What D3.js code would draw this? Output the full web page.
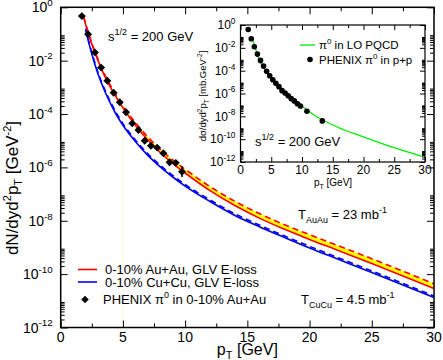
<!DOCTYPE html>
<html>
<head>
<meta charset="utf-8">
<script src="https://cdn.jsdelivr.net/npm/d3@7"></script>
<style>
  body { margin: 0; background: #fff; }
  svg { display: block; font-family: "Liberation Sans", Arial, sans-serif; }
</style>
</head>
<body>
<svg id="chart" width="443" height="360"></svg>
<script>
// values are log10 of the spectra
const redPt = [1.85, 2, 2.5, 3, 3.5, 4, 4.5, 5, 6, 7, 8, 9, 10, 12, 14, 16, 18, 20, 22, 25, 28, 30];
const redUpper = [-0.35, -0.6, -1.33, -1.95, -2.48, -2.93, -3.32, -3.68, -4.32, -4.86, -5.32, -5.72, -6.07, -6.72, -7.27, -7.74, -8.15, -8.52, -8.88, -9.42, -9.98, -10.36];
const redLower = [-0.38, -0.64, -1.38, -2.0, -2.54, -3.0, -3.4, -3.77, -4.42, -4.97, -5.44, -5.85, -6.21, -6.87, -7.43, -7.91, -8.32, -8.7, -9.06, -9.6, -10.16, -10.54];

const bluePt = [2, 2.5, 3, 3.5, 4, 4.5, 5, 6, 7, 8, 9, 10, 12, 14, 16, 18, 20, 22, 25, 28, 30];
const blueUpper = [-0.8, -1.69, -2.44, -3.04, -3.54, -3.99, -4.36, -4.97, -5.49, -5.92, -6.3, -6.64, -7.22, -7.74, -8.17, -8.57, -8.96, -9.33, -9.88, -10.44, -10.82];
const blueLower = [-0.85, -1.75, -2.5, -3.1, -3.6, -4.05, -4.42, -5.03, -5.55, -5.98, -6.36, -6.7, -7.28, -7.8, -8.23, -8.63, -9.02, -9.39, -9.94, -10.5, -10.88];

const auauPt = [1.7, 2.2, 2.75, 3.25, 3.75, 4.25, 4.75, 5.25, 5.75, 6.25, 6.75, 7.25, 7.75, 8.25, 8.75, 9.25, 9.75];
const auauLog = [-0.33, -1.01, -1.69, -2.26, -2.75, -3.2, -3.56, -3.93, -4.35, -4.6, -5.0, -5.19, -5.26, -5.47, -5.81, -5.83, -6.16];
const auauErr = [0, 0, 0, 0, 0, 0, 0, 0, 0, 0, 0, 0, 0, 0, 0.12, 0.1, 0.2];

// inset
const ppPt = [1.25, 1.75, 2.25, 2.75, 3.25, 3.75, 4.25, 4.75, 5.25, 5.75, 6.25, 6.75, 7.25, 7.75, 8.25, 8.75, 9.25, 9.75, 10.8, 13.3];
const ppLog = [-0.4, -1.2, -1.9, -2.55, -3.1, -3.6, -4.05, -4.45, -4.8, -5.1, -5.4, -5.75, -5.95, -6.2, -6.45, -6.65, -6.9, -7.1, -7.55, -8.4];
const pqcdPt = [2, 3, 4, 5, 6, 8, 10, 12, 14, 16, 20, 25, 29.5];
const pqcdLog = [-1.3, -2.95, -3.9, -4.6, -5.2, -6.25, -7.1, -7.9, -8.5, -9.0, -9.8, -10.75, -11.5];

const xTicks = [0, 5, 10, 15, 20, 25, 30];
const yTickExp = [0, -2, -4, -6, -8, -10, -12];

const svg = d3.select("#chart");

function logAxes(g, x, y, o) {
    let [x0, x1] = x.range();
    let [y0, y1] = y.range();
    let minor = [];
    yTickExp.forEach(e => { for (let k = 2; k <= 9; k++) if (e < 0) minor.push(k * Math.pow(10, e)); });
    let xMinor = d3.range(2.5, 30, 5);
    let major = yTickExp.map(e => Math.pow(10, e));

    g.append("g").attr("transform", `translate(0,${y0})`)
        .call(d3.axisBottom(x).tickValues(xTicks).tickSize(-o.maj).tickFormat(""));
    g.append("g").attr("transform", `translate(0,${y0})`)
        .call(d3.axisBottom(x).tickValues(xMinor).tickSize(-o.min).tickFormat(""));
    g.append("g").attr("transform", `translate(0,${y1})`)
        .call(d3.axisTop(x).tickValues(xTicks).tickSize(-o.maj).tickFormat(""));
    g.append("g").attr("transform", `translate(0,${y1})`)
        .call(d3.axisTop(x).tickValues(xMinor).tickSize(-o.min).tickFormat(""));
    [[d3.axisLeft, x0], [d3.axisRight, x1]].forEach(([ax, px]) => {
        g.append("g").attr("transform", `translate(${px},0)`)
            .call(ax(y).tickValues(major).tickSize(-o.maj).tickFormat(""));
        g.append("g").attr("transform", `translate(${px},0)`)
            .call(ax(y).tickValues(minor).tickSize(-o.min).tickFormat(""));
    });
    g.selectAll(".domain").remove();
    g.selectAll(".tick line").attr("stroke", "#000").attr("stroke-width", 1);

    g.append("rect")
        .attr("x", x0).attr("y", y1)
        .attr("width", x1 - x0).attr("height", y0 - y1)
        .attr("fill", "none").attr("stroke", "#000").attr("stroke-width", o.frame);

    g.selectAll(".xlab").data(xTicks).enter().append("text")
        .attr("x", d => x(d)).attr("y", y0 + o.xoff)
        .attr("text-anchor", "middle").style("font-size", o.fs + "px")
        .text(d => d);

    let yl = g.selectAll(".ylab").data(yTickExp).enter().append("text")
        .attr("x", x0 - o.yoff).attr("y", d => y(Math.pow(10, d)) + o.fs * 0.36)
        .attr("text-anchor", "end").style("font-size", o.fs + "px");
    yl.append("tspan").text("10");
    yl.append("tspan").attr("dy", -o.fs * 0.45).style("font-size", (o.fs * 0.7) + "px").text(d => d);
}

// ---------- main panel ----------
let x = d3.scaleLinear().domain([0, 30]).range([60.7, 434]);
let y = d3.scaleLog().domain([1e-12, 1]).range([327.5, 7.3]);

let main = svg.append("g");

main.append("line")
    .attr("x1", x(5)).attr("x2", x(5))
    .attr("y1", y(Math.pow(10, -4.6))).attr("y2", y(1e-12))
    .attr("stroke", "#fbf6d8").attr("stroke-width", 1);

function bands(pt, up, lo, color) {
    let rows = pt.map((p, i) => ({ p: p, u: Math.pow(10, up[i]), l: Math.pow(10, lo[i]) }));
    main.append("path").datum(rows)
        .attr("fill", "#ffff00")
        .attr("d", d3.area().curve(d3.curveMonotoneX).x(d => x(d.p)).y0(d => y(d.l)).y1(d => y(d.u)));
    main.append("path").datum(rows)
        .attr("fill", "none").attr("stroke", color).attr("stroke-width", 1.6)
        .attr("d", d3.line().curve(d3.curveMonotoneX).x(d => x(d.p)).y(d => y(d.l)));
    main.append("path").datum(rows)
        .attr("fill", "none").attr("stroke", color).attr("stroke-width", 1.6)
        .attr("stroke-dasharray", "6,4")
        .attr("d", d3.line().curve(d3.curveMonotoneX).x(d => x(d.p)).y(d => y(d.u)));
}
bands(bluePt, blueUpper, blueLower, "#0000ff");
bands(redPt, redUpper, redLower, "#ff0000");

let pts = auauPt.map((p, i) => ({ p: p, v: auauLog[i], e: auauErr[i] }));
main.selectAll(".err").data(pts.filter(d => d.e > 0)).enter().append("line")
    .attr("x1", d => x(d.p)).attr("x2", d => x(d.p))
    .attr("y1", d => y(Math.pow(10, d.v + d.e))).attr("y2", d => y(Math.pow(10, d.v - d.e)))
    .attr("stroke", "#000").attr("stroke-width", 1.5);
main.selectAll(".pt").data(pts).enter().append("path")
    .attr("transform", d => `translate(${x(d.p)},${y(Math.pow(10, d.v))})`)
    .attr("d", d3.symbol(d3.symbolDiamond2, 40))
    .attr("fill", "#000");

logAxes(main, x, y, { maj: 7, min: 4, frame: 1.5, fs: 14, xoff: 14, yoff: 8 });

main.append("text").attr("x", x(15)).attr("y", 355)
    .attr("text-anchor", "middle").style("font-size", "16px")
    .call(t => {
        t.append("tspan").text("p");
        t.append("tspan").attr("dy", 4).style("font-size", "11px").text("T");
        t.append("tspan").attr("dy", -4).text(" [GeV]");
    });

main.append("text").attr("transform", "translate(18,188) rotate(-90)")
    .attr("text-anchor", "middle").style("font-size", "17px")
    .call(t => {
        t.append("tspan").text("dN/dyd");
        t.append("tspan").attr("dy", -7).style("font-size", "11px").text("2");
        t.append("tspan").attr("dy", 7).text("p");
        t.append("tspan").attr("dy", 4).style("font-size", "11px").text("T");
        t.append("tspan").attr("dy", -4).text("  [GeV");
        t.append("tspan").attr("dy", -7).style("font-size", "11px").text("-2");
        t.append("tspan").attr("dy", 7).text("]");
    });

main.append("text").attr("x", 108).attr("y", 41).style("font-size", "13px")
    .call(t => {
        t.append("tspan").text("s");
        t.append("tspan").attr("dy", -6).style("font-size", "9px").text("1/2");
        t.append("tspan").attr("dy", 6).text(" = 200 GeV");
    });

function tlabel(px, py, sub, val) {
    main.append("text").attr("x", px).attr("y", py).style("font-size", "13px")
        .call(t => {
            t.append("tspan").text("T");
            t.append("tspan").attr("dy", 4).style("font-size", "9px").text(sub);
            t.append("tspan").attr("dy", -4).text(" = " + val + " mb");
            t.append("tspan").attr("dy", -6).style("font-size", "9px").text("-1");
        });
}
tlabel(298, 219, "AuAu", "23");
tlabel(301, 304, "CuCu", "4.5");

let legend = [["#ff0000", "0-10% Au+Au, GLV E-loss", 269.5], ["#0000ff", "0-10% Cu+Cu, GLV E-loss", 282]];
legend.forEach(([c, s, ly]) => {
    main.append("line").attr("x1", 78).attr("x2", 97).attr("y1", ly).attr("y2", ly)
        .attr("stroke", c).attr("stroke-width", 1.6);
    main.append("text").attr("x", 105).attr("y", ly + 4.5).style("font-size", "13px").text(s);
});
main.append("path").attr("transform", "translate(85,299.5)")
    .attr("d", d3.symbol(d3.symbolDiamond2, 36)).attr("fill", "#000");
main.append("text").attr("x", 103).attr("y", 304).style("font-size", "13px")
    .call(t => {
        t.append("tspan").text("PHENIX \u03c0");
        t.append("tspan").attr("dy", -6).style("font-size", "9px").text("0");
        t.append("tspan").attr("dy", 6).text(" in 0-10% Au+Au");
    });

// ---------- inset ----------
let xi = d3.scaleLinear().domain([0, 30]).range([240.5, 425]);
let yi = d3.scaleLog().domain([1e-12, 1]).range([162, 25]);
let inset = svg.append("g");

inset.append("path").datum(pqcdPt.map((p, i) => ({ p: p, v: Math.pow(10, pqcdLog[i]) })))
    .attr("fill", "none").attr("stroke", "#00ee00").attr("stroke-width", 1.3)
    .attr("d", d3.line().curve(d3.curveMonotoneX).x(d => xi(d.p)).y(d => yi(d.v)));
inset.selectAll(".pp").data(ppPt.map((p, i) => ({ p: p, v: Math.pow(10, ppLog[i]) }))).enter()
    .append("circle")
    .attr("cx", d => xi(d.p)).attr("cy", d => yi(d.v)).attr("r", 2.8)
    .attr("fill", "#000");

logAxes(inset, xi, yi, { maj: 5, min: 3, frame: 1.2, fs: 12, xoff: 12, yoff: 5 });

inset.append("text").attr("x", 333).attr("y", 186)
    .attr("text-anchor", "middle").style("font-size", "10px")
    .call(t => {
        t.append("tspan").text("p");
        t.append("tspan").attr("dy", 3).style("font-size", "7px").text("T");
        t.append("tspan").attr("dy", -3).text(" [GeV]");
    });
inset.append("text").attr("transform", "translate(206,96) rotate(-90)")
    .attr("text-anchor", "middle").style("font-size", "9.5px")
    .call(t => {
        t.append("tspan").text("d\u03c3/dyd");
        t.append("tspan").attr("dy", -4).style("font-size", "6.5px").text("2");
        t.append("tspan").attr("dy", 4).text("p");
        t.append("tspan").attr("dy", 3).style("font-size", "6.5px").text("T");
        t.append("tspan").attr("dy", -3).text("  [mb.GeV");
        t.append("tspan").attr("dy", -4).style("font-size", "6.5px").text("-2");
        t.append("tspan").attr("dy", 4).text("]");
    });

inset.append("line").attr("x1", 300).attr("x2", 315).attr("y1", 45).attr("y2", 45)
    .attr("stroke", "#00ee00").attr("stroke-width", 1.3);
inset.append("text").attr("x", 319).attr("y", 49).style("font-size", "11.5px")
    .call(t => {
        t.append("tspan").text("\u03c0");
        t.append("tspan").attr("dy", -5).style("font-size", "8px").text("0");
        t.append("tspan").attr("dy", 5).text(" in LO PQCD");
    });
inset.append("circle").attr("cx", 310).attr("cy", 59.5).attr("r", 2.8).attr("fill", "#000");
inset.append("text").attr("x", 319).attr("y", 63.5).style("font-size", "11.5px")
    .call(t => {
        t.append("tspan").text("PHENIX \u03c0");
        t.append("tspan").attr("dy", -5).style("font-size", "8px").text("0");
        t.append("tspan").attr("dy", 5).text(" in p+p");
    });
inset.append("text").attr("x", 255).attr("y", 146).style("font-size", "13px")
    .call(t => {
        t.append("tspan").text("s");
        t.append("tspan").attr("dy", -6).style("font-size", "9px").text("1/2");
        t.append("tspan").attr("dy", 6).text(" = 200 GeV");
    });
</script>
</body>
</html>
